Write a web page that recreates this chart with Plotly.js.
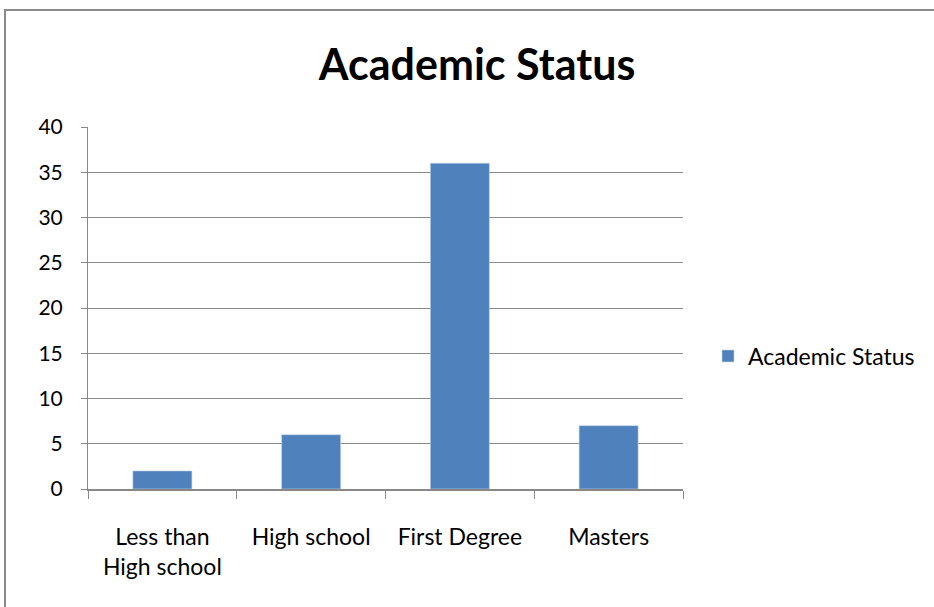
<!DOCTYPE html>
<html>
<head>
<meta charset="utf-8">
<script src="https://cdn.plot.ly/plotly-3.0.1.min.js"></script>
<style>html,body{margin:0;padding:0;background:#fff;}#chart{width:934px;height:607px;}</style>
</head>
<body>
<div id="chart"></div>
<script>
const categories = ["Less than<br>High school", "High school", "First Degree", "Masters"];
const seriesName = "Academic Status";
const values = [2, 6, 36, 7];
const yTicks = [0, 5, 10, 15, 20, 25, 30, 35, 40];

const W = 934, H = 607;
const m = {l: 88, r: 251, t: 127, b: 118};
const pw = W - m.l - m.r, ph = H - m.t - m.b;
const px = x => (x - m.l) / pw;
const py = y => (H - m.b - y) / ph;
const FONT = "Lato, 'Liberation Sans', sans-serif";

const trace = {
  type: "bar",
  x: categories,
  y: values,
  name: seriesName,
  marker: {color: "#4F81BD", line: {color: "#C6D4EA", width: 0.6}},
  showlegend: true,
  hoverinfo: "x+y"
};

const layout = {
  width: W, height: H,
  margin: m,
  paper_bgcolor: "#fff", plot_bgcolor: "#fff",
  font: {family: FONT, color: "#000", size: 22},
  title: {text: "<b>Academic Status</b>", font: {family: FONT, size: 43, color: "#000"},
          x: 477 / W, xanchor: "center", y: 1 - 65 / H, yanchor: "middle", xref: "container", yref: "container"},
  bargap: 0.603,
  showlegend: true,
  legend: {x: px(708), xanchor: "left", y: py(356), yanchor: "middle",
           font: {family: FONT, size: 23, color: "#000"}, bgcolor: "rgba(0,0,0,0)",
           itemwidth: 30, traceorder: "normal"},
  xaxis: {
    type: "category",
    showline: true, linecolor: "#888", linewidth: 2,
    ticks: "outside", tickson: "boundaries", ticklen: 8, tickcolor: "#888", tickwidth: 1,
    showgrid: false, zeroline: false,
    tickfont: {family: FONT, size: 23, color: "#000"},
    ticklabelstandoff: 26
  },
  yaxis: {
    range: [0, 40],
    tickvals: yTicks, ticktext: yTicks.map(String),
    showline: true, linecolor: "#888", linewidth: 1,
    ticks: "outside", ticklen: 6, tickcolor: "#888",
    showgrid: true, gridcolor: "#888", gridwidth: 1,
    zeroline: false,
    tickfont: {family: FONT, size: 21, color: "#000"},
    ticklabelstandoff: 14
  },
  shapes: [
    {type: "line", xref: "paper", yref: "paper", x0: px(5), x1: px(5), y0: py(9), y1: py(620),
     line: {color: "#8a8a8a", width: 2}},
    {type: "line", xref: "paper", yref: "paper", x0: px(4), x1: px(940), y0: py(10), y1: py(10),
     line: {color: "#8a8a8a", width: 2}}
  ]
};

Plotly.newPlot("chart", [trace], layout, {displayModeBar: false, staticPlot: true});
</script>
</body>
</html>
